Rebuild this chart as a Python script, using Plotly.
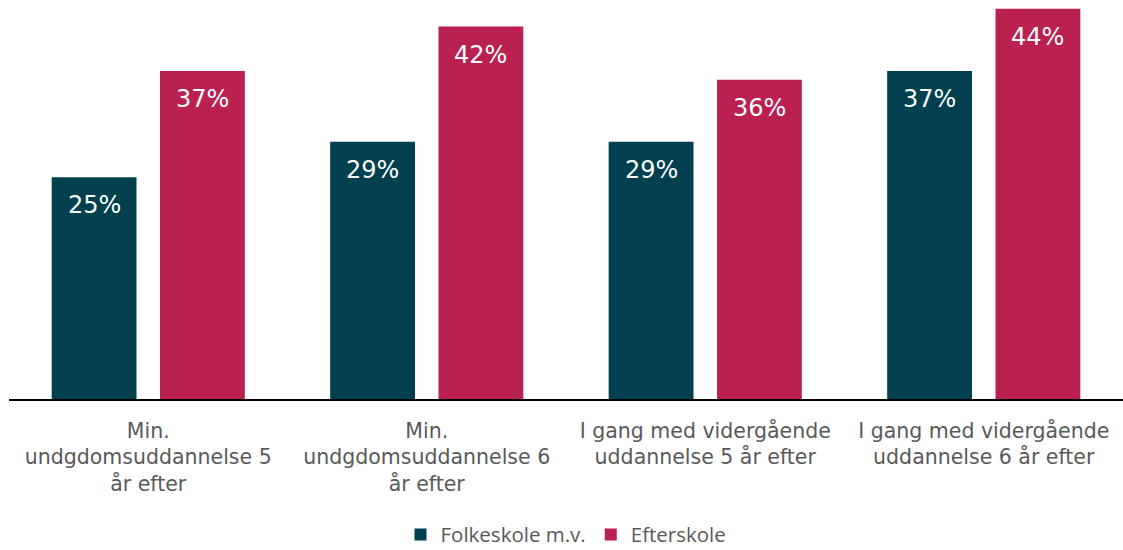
import plotly.graph_objects as go

categories = [
    "Min.<br>undgdomsuddannelse 5<br>år efter",
    "Min.<br>undgdomsuddannelse 6<br>år efter",
    "I gang med vidergående<br>uddannelse 5 år efter",
    "I gang med vidergående<br>uddannelse 6 år efter",
]
series_names = ["Folkeskole m.v.", "Efterskole"]
folkeskole = [25, 29, 29, 37]
efterskole = [37, 42, 36, 44]
colors = ["#00404F", "#BA2050"]

fig = go.Figure()
for name, vals, col in zip(series_names, [folkeskole, efterskole], colors):
    fig.add_trace(go.Bar(x=categories, y=vals, name=name, marker_color=col,
                         marker_line_width=0, hoverinfo="skip"))

for shift, vals in zip([-54, 54], [folkeskole, efterskole]):
    for c, v in zip(categories, vals):
        fig.add_annotation(x=c, y=v, text=f"{v}%", showarrow=False,
                           xshift=shift, yshift=-28,
                           font=dict(family="DejaVu Sans", size=24, color="white"))

fig.update_layout(
    width=1123, height=550,
    margin=dict(l=9, r=0, t=0, b=151),
    paper_bgcolor="white", plot_bgcolor="white",
    barmode="group", bargap=0.222, bargroupgap=0.217,
    showlegend=True,
    legend=dict(orientation="h", x=0.5, xanchor="center",
                yref="container", y=0.028, yanchor="middle",
                font=dict(family="Open Sans", size=20.5, color="#595959"),
                itemwidth=30, tracegroupgap=0),
    xaxis=dict(showline=True, linecolor="black", linewidth=2, ticks="",
               tickfont=dict(family="DejaVu Sans", size=20.5, color="#595959"),
               ticklabelstandoff=12, automargin=False),
    yaxis=dict(range=[0, 45], showgrid=False, showticklabels=False, zeroline=False,
               automargin=False),
)
fig.write_html("out.html", config={"displayModeBar": False},
               post_script="document.body.style.margin='0';document.body.style.overflow='hidden';")
